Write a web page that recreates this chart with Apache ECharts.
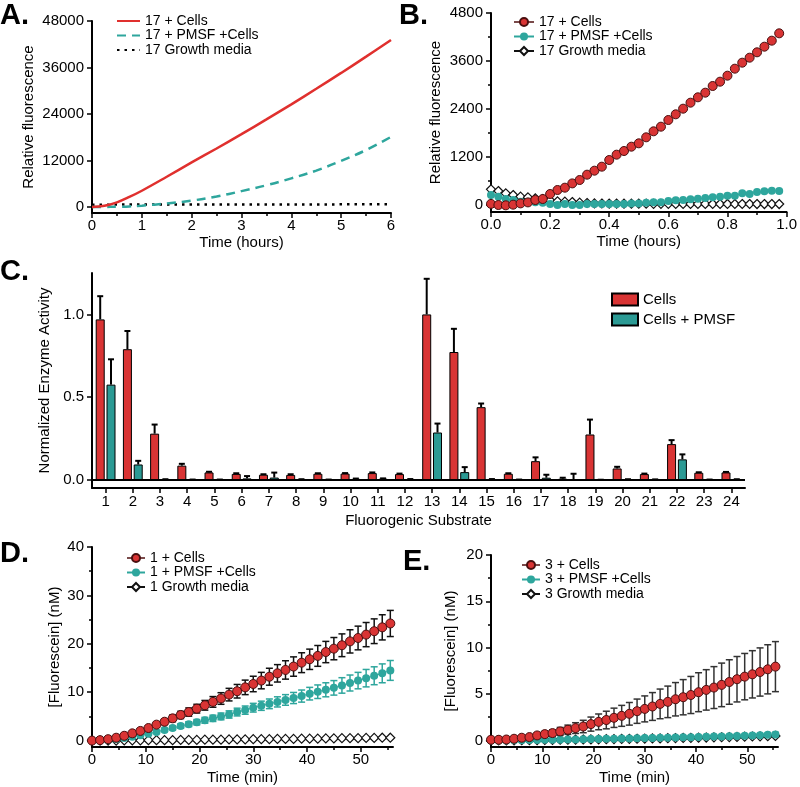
<!DOCTYPE html>
<html><head><meta charset="utf-8">
<script src="https://cdn.jsdelivr.net/npm/echarts@6/dist/echarts.min.js"></script>
<style>html,body{margin:0;padding:0;background:#fff}#c{width:800px;height:787px}</style>
</head><body><div id="c"></div>
<script>
// ---------- Panel A (continuous traces, hours) ----------
const aTime  = [0, 0.25, 0.5, 0.75, 1, 1.5, 2, 2.5, 3, 3.5, 4, 4.5, 5, 5.5, 6];
const aCells = [0, 300, 1200, 2600, 4200, 7800, 11500, 15100, 18800, 22600, 26500, 30500, 34600, 38800, 43100];
const aPMSF  = [0, 20, 60, 150, 350, 900, 1650, 2700, 4100, 5600, 7400, 9400, 11900, 14700, 18100];
const aMedia = [600, 600, 620, 620, 630, 640, 650, 650, 660, 660, 670, 670, 680, 680, 690];
const aTicksY = [0, 12000, 24000, 36000, 48000];
const aTicksX = [0, 1, 2, 3, 4, 5, 6];
const aMinorX = [0.5, 1.5, 2.5, 3.5, 4.5, 5.5];

// ---------- Panel B (first hour) ----------
const bTime = [0, 0.025, 0.05, 0.075, 0.1, 0.125, 0.15, 0.175, 0.2, 0.225, 0.25, 0.275, 0.3, 0.325, 0.35, 0.375, 0.4, 0.425, 0.45, 0.475, 0.5, 0.525, 0.55, 0.575, 0.6, 0.625, 0.65, 0.675, 0.7, 0.725, 0.75, 0.775, 0.8, 0.825, 0.85, 0.875, 0.9, 0.925, 0.95, 0.975];
const bCells = [28, 0, -8, 8, 40, 65, 125, 150, 275, 375, 433, 540, 625, 758, 858, 958, 1125, 1258, 1350, 1458, 1542, 1692, 1842, 1958, 2125, 2267, 2408, 2558, 2692, 2808, 2975, 3083, 3233, 3408, 3558, 3683, 3817, 3958, 4108, 4292];
const bPMSF  = [250, 208, 150, 125, 83, 83, 67, 58, 25, 0, 25, 0, 0, 25, 25, 25, 25, 25, 25, 40, 40, 58, 67, 67, 100, 117, 125, 142, 158, 175, 192, 208, 233, 233, 292, 275, 325, 342, 358, 350];
const bMedia = [392, 350, 292, 250, 208, 192, 167, 150, 117, 92, 83, 75, 58, 50, 40, 38, 36, 35, 34, 33, 32, 32, 30, 30, 30, 28, 28, 28, 27, 27, 26, 26, 26, 25, 25, 25, 24, 24, 24, 24];
const bTicksY = [0, 1200, 2400, 3600, 4800];
const bMinorY = [600, 1800, 3000, 4200];
const bTicksX = [0, 0.2, 0.4, 0.6, 0.8, 1.0];
const bMinorX = [0.1, 0.3, 0.5, 0.7, 0.9];

// ---------- Panel C (bars) ----------
const cLabels = ['1','2','3','4','5','6','7','8','9','10','11','12','13','14','15','16','17','18','19','20','21','22','23','24'];
const cCells    = [0.97, 0.79, 0.28, 0.087, 0.046, 0.037, 0.032, 0.031, 0.038, 0.039, 0.042, 0.036, 1.0, 0.773, 0.44, 0.038, 0.114, 0.008, 0.275, 0.07, 0.036, 0.217, 0.044, 0.046];
const cCellsErr = [0.14, 0.11, 0.055, 0.011, 0.004, 0.004, 0.003, 0.004, 0.003, 0.003, 0.004, 0.003, 0.215, 0.14, 0.022, 0.003, 0.023, 0.006, 0.09, 0.01, 0.003, 0.024, 0.003, 0.003];
const cPMSF     = [0.576, 0.094, 0.004, 0.002, 0.002, 0.01, 0.015, 0.004, 0.002, 0.007, 0.008, 0.005, 0.287, 0.048, 0.004, 0.002, 0.014, 0.002, 0.001, 0.004, 0.003, 0.125, 0.002, 0.004];
const cPMSFErr  = [0.153, 0.022, 0.001, 0.001, 0.001, 0.014, 0.03, 0.001, 0.001, 0.002, 0.002, 0.001, 0.054, 0.03, 0.002, 0.001, 0.018, 0.036, 0.001, 0.001, 0.001, 0.03, 0.001, 0.001];
const cTicksY = [0, 0.5, 1.0];

// ---------- Panels D & E (minutes) ----------
const minTime = [0, 1.5, 3, 4.5, 6, 7.5, 9, 10.5, 12, 13.5, 15, 16.5, 18, 19.5, 21, 22.5, 24, 25.5, 27, 28.5, 30, 31.5, 33, 34.5, 36, 37.5, 39, 40.5, 42, 43.5, 45, 46.5, 48, 49.5, 51, 52.5, 54, 55.5];
const dCells    = [0.0, 0.1, 0.3, 0.6, 1.0, 1.5, 2.0, 2.6, 3.3, 3.9, 4.6, 5.3, 5.9, 6.6, 7.3, 8.0, 8.7, 9.5, 10.2, 11.0, 11.7, 12.4, 13.2, 13.9, 14.6, 15.3, 16.1, 16.8, 17.5, 18.3, 19.0, 19.7, 20.5, 21.2, 21.9, 22.6, 23.4, 24.2];
const dCellsErr = [0, 0.05, 0.1, 0.15, 0.2, 0.3, 0.35, 0.4, 0.5, 0.6, 0.7, 0.75, 0.85, 0.9, 1.0, 1.1, 1.2, 1.3, 1.4, 1.5, 1.6, 1.7, 1.75, 1.8, 1.9, 2.0, 2.05, 2.1, 2.15, 2.2, 2.3, 2.35, 2.4, 2.45, 2.5, 2.55, 2.6, 2.7];
const dPMSF     = [0.0, 0.05, 0.15, 0.3, 0.55, 0.8, 1.1, 1.4, 1.8, 2.2, 2.6, 3.0, 3.4, 3.8, 4.2, 4.6, 5.0, 5.4, 5.9, 6.3, 6.8, 7.2, 7.6, 8.0, 8.4, 8.8, 9.2, 9.7, 10.1, 10.5, 10.9, 11.4, 11.9, 12.4, 12.9, 13.4, 13.9, 14.5];
const dPMSFErr  = [0, 0.03, 0.05, 0.08, 0.1, 0.15, 0.2, 0.25, 0.3, 0.35, 0.4, 0.45, 0.5, 0.55, 0.6, 0.65, 0.7, 0.75, 0.8, 0.85, 0.9, 0.95, 1.0, 1.05, 1.1, 1.15, 1.25, 1.3, 1.4, 1.45, 1.5, 1.6, 1.65, 1.7, 1.8, 1.85, 1.95, 2.05];
const dMedia    = [0.0, 0.0, 0.0, 0.0, 0.05, 0.05, 0.05, 0.1, 0.1, 0.1, 0.1, 0.15, 0.15, 0.15, 0.2, 0.2, 0.2, 0.25, 0.25, 0.25, 0.3, 0.3, 0.3, 0.35, 0.35, 0.35, 0.4, 0.4, 0.4, 0.45, 0.45, 0.5, 0.5, 0.5, 0.55, 0.55, 0.6, 0.6];
const dTicksY = [0, 10, 20, 30, 40];
const dMinorY = [5, 15, 25, 35];

const eCells    = [0.07, 0.07, 0.1, 0.18, 0.29, 0.36, 0.54, 0.68, 0.79, 0.97, 1.15, 1.33, 1.5, 1.76, 2.0, 2.2, 2.44, 2.65, 2.87, 3.15, 3.4, 3.66, 3.94, 4.16, 4.44, 4.66, 4.9, 5.2, 5.45, 5.7, 5.99, 6.3, 6.6, 6.88, 7.13, 7.38, 7.67, 7.96];
const eCellsErr = [0, 0.03, 0.06, 0.1, 0.14, 0.2, 0.25, 0.3, 0.36, 0.43, 0.5, 0.58, 0.67, 0.76, 0.85, 0.95, 1.04, 1.13, 1.22, 1.31, 1.4, 1.5, 1.6, 1.7, 1.8, 1.9, 2.0, 2.1, 2.18, 2.26, 2.35, 2.4, 2.45, 2.5, 2.55, 2.6, 2.65, 2.7];
const ePMSF     = [0.0, 0.0, 0.0, 0.02, 0.03, 0.04, 0.05, 0.06, 0.07, 0.08, 0.1, 0.11, 0.12, 0.14, 0.15, 0.17, 0.18, 0.2, 0.21, 0.23, 0.25, 0.26, 0.28, 0.3, 0.31, 0.33, 0.35, 0.37, 0.39, 0.41, 0.43, 0.45, 0.48, 0.5, 0.53, 0.56, 0.6, 0.65];
const ePMSFErr  = [0, 0, 0, 0.01, 0.01, 0.01, 0.02, 0.02, 0.02, 0.03, 0.03, 0.03, 0.04, 0.04, 0.05, 0.05, 0.05, 0.06, 0.06, 0.07, 0.07, 0.08, 0.08, 0.09, 0.09, 0.1, 0.1, 0.11, 0.12, 0.12, 0.13, 0.14, 0.15, 0.16, 0.17, 0.18, 0.2, 0.22];
const eMedia    = [0.0, 0.0, 0.0, 0.01, 0.02, 0.03, 0.04, 0.05, 0.06, 0.07, 0.08, 0.09, 0.1, 0.11, 0.12, 0.13, 0.14, 0.16, 0.17, 0.18, 0.2, 0.21, 0.22, 0.24, 0.25, 0.27, 0.28, 0.3, 0.31, 0.33, 0.34, 0.36, 0.38, 0.4, 0.42, 0.44, 0.46, 0.48];
const eTicksY = [0, 5, 10, 15, 20];
const eMinorY = [2.5, 7.5, 12.5, 17.5];
const minTicksX = [0, 10, 20, 30, 40, 50];
const minMinorX = [5, 15, 25, 35, 45, 55];

// ---------- styling ----------
const FONT = "'Liberation Sans', Arial, Helvetica, sans-serif";
const RED = '#d93434', RED_B = '#4a0f0f', TEAL = '#2ea69d', TEAL_BAR = '#2b9a94';
const zip = (xs, ys) => xs.map((x, i) => [x, ys[i]]);
const nameStyle = {color: '#000', fontSize: 15, fontFamily: FONT};
const lblStyle = {color: '#000', fontSize: 15, fontFamily: FONT};

function mainX(grid, min, max, ticks, fmt, name, gap) {
  return {type: 'value', gridIndex: grid, min, max, position: 'bottom',
    axisLine: {show: true, onZero: false, lineStyle: {color: '#000', width: 2}},
    axisTick: {show: true, length: 5, lineStyle: {color: '#000', width: 1.5}, customValues: ticks},
    axisLabel: Object.assign({customValues: ticks, formatter: fmt, margin: 5}, lblStyle),
    splitLine: {show: false},
    name, nameLocation: 'middle', nameGap: gap, nameTextStyle: nameStyle};
}
function minorX(grid, min, max, vals) {
  return {type: 'value', gridIndex: grid, min, max, position: 'bottom',
    axisLine: {show: false, onZero: false}, axisLabel: {show: false}, splitLine: {show: false},
    axisTick: {show: true, length: 3, lineStyle: {color: '#000', width: 1.5}, customValues: vals}};
}
function mainY(grid, min, max, ticks, fmt, name, gap) {
  return {type: 'value', gridIndex: grid, min, max, position: 'left',
    axisLine: {show: true, onZero: false, lineStyle: {color: '#000', width: 2}},
    axisTick: {show: true, length: 5, lineStyle: {color: '#000', width: 1.5}, customValues: ticks},
    axisLabel: Object.assign({customValues: ticks, formatter: fmt, margin: 8}, lblStyle),
    splitLine: {show: false},
    name, nameLocation: 'middle', nameGap: gap, nameTextStyle: nameStyle};
}
function minorY(grid, min, max, vals) {
  return {type: 'value', gridIndex: grid, min, max, position: 'left',
    axisLine: {show: false, onZero: false}, axisLabel: {show: false}, splitLine: {show: false},
    axisTick: {show: true, length: 3, lineStyle: {color: '#000', width: 1.5}, customValues: vals}};
}
function errSeries(name, xi, yi, xs, ys, es, color, cap, both, lw, dx) {
  return {type: 'custom', name, xAxisIndex: xi, yAxisIndex: yi, z: 1, silent: true,
    data: xs.map((x, i) => [x, ys[i], es[i]]),
    encode: {x: 0, y: 1},
    renderItem: function (params, api) {
      const x = api.value(0), y = api.value(1), e = api.value(2);
      const off = dx || 0;
      const top = api.coord([x, y + e]);
      const bot = api.coord([x, both ? y - e : y]);
      const px = top[0] + off;
      const st = {stroke: color, lineWidth: lw};
      const ch = [
        {type: 'line', shape: {x1: px, y1: top[1], x2: px, y2: bot[1]}, style: st},
        {type: 'line', shape: {x1: px - cap, y1: top[1], x2: px + cap, y2: top[1]}, style: st}
      ];
      if (both) ch.push({type: 'line', shape: {x1: px - cap, y1: bot[1], x2: px + cap, y2: bot[1]}, style: st});
      return {type: 'group', children: ch};
    }};
}
function markerSeries(name, xi, yi, xs, ys, kind) {
  const s = {type: 'line', name, xAxisIndex: xi, yAxisIndex: yi, data: zip(xs, ys), z: 3};
  if (kind === 'red') {
    Object.assign(s, {symbol: 'circle', symbolSize: 9, z: 5,
      itemStyle: {color: RED, borderColor: RED_B, borderWidth: 1},
      lineStyle: {color: '#7a4a4a', width: 1}});
  } else if (kind === 'teal') {
    Object.assign(s, {symbol: 'circle', symbolSize: 8, z: 4,
      itemStyle: {color: TEAL, borderWidth: 0},
      lineStyle: {color: TEAL, width: 1}});
  } else {
    Object.assign(s, {symbol: 'diamond', symbolSize: 9, z: 3,
      itemStyle: {color: '#fff', borderColor: '#111', borderWidth: 1.2},
      lineStyle: {color: '#111', width: 1}});
  }
  return s;
}
const legendText = {color: '#000', fontSize: 14, fontFamily: FONT, lineHeight: 14};
function lineLegend(names, left, top, w, hideSymbol) {
  const l = {data: names, left, top, orient: 'vertical', itemWidth: w, itemHeight: 10, itemGap: 0.5,
    padding: 0, selectedMode: false, textStyle: legendText};
  if (hideSymbol) l.itemStyle = {opacity: 0};
  return l;
}

const fmtInt = v => String(Math.round(v));
const fmt1 = v => v.toFixed(1);

const option = {
  animation: false,
  backgroundColor: '#fff',
  textStyle: {fontFamily: FONT},
  title: [
    {text: 'A.', left: 0, top: 1, padding: 0, textStyle: {fontSize: 29, fontWeight: 'bold', color: '#000', fontFamily: FONT}},
    {text: 'B.', left: 399, top: 1, padding: 0, textStyle: {fontSize: 29, fontWeight: 'bold', color: '#000', fontFamily: FONT}},
    {text: 'C.', left: 0, top: 257, padding: 0, textStyle: {fontSize: 29, fontWeight: 'bold', color: '#000', fontFamily: FONT}},
    {text: 'D.', left: 0, top: 539, padding: 0, textStyle: {fontSize: 29, fontWeight: 'bold', color: '#000', fontFamily: FONT}},
    {text: 'E.', left: 403, top: 547, padding: 0, textStyle: {fontSize: 29, fontWeight: 'bold', color: '#000', fontFamily: FONT}}
  ],
  grid: [
    {left: 92, top: 21, width: 299, height: 192},
    {left: 491, top: 13, width: 300, height: 199},
    {left: 92, top: 273, width: 653, height: 215},
    {left: 92, top: 547, width: 301, height: 200},
    {left: 491, top: 555, width: 287, height: 192}
  ],
  legend: [
    lineLegend(['17 + Cells', '17 + PMSF +Cells', '17 Growth media'], 116, 14, 23, true),
    lineLegend(['17 + Cells ', '17 + PMSF +Cells ', '17 Growth media '], 513, 15, 20, false),
    {data: ['Cells', 'Cells + PMSF'], left: 611, top: 292, orient: 'vertical', itemWidth: 26, itemHeight: 12, itemGap: 5,
      padding: 0, icon: 'rect', selectedMode: false, textStyle: {color: '#000', fontSize: 15, fontFamily: FONT}},
    lineLegend(['1 + Cells', '1 + PMSF +Cells', '1 Growth media'], 126, 551, 18, false),
    lineLegend(['3 + Cells', '3 + PMSF +Cells', '3 Growth media'], 521, 558, 18, false)
  ],
  xAxis: [
    mainX(0, 0, 6, aTicksX, fmtInt, 'Time (hours)', 22),
    minorX(0, 0, 6, aMinorX),
    mainX(1, 0, 1, bTicksX, fmt1, 'Time (hours)', 22),
    minorX(1, 0, 1, bMinorX),
    {type: 'category', gridIndex: 2, data: cLabels, position: 'bottom', boundaryGap: true,
      axisLine: {show: true, onZero: false, lineStyle: {color: '#000', width: 2}},
      axisTick: {show: true, alignWithLabel: true, length: 5, lineStyle: {color: '#000', width: 1.5}},
      axisLabel: Object.assign({margin: 6, interval: 0}, lblStyle),
      name: 'Fluorogenic Substrate', nameLocation: 'middle', nameGap: 25, nameTextStyle: nameStyle},
    mainX(3, 0, 56, minTicksX, fmtInt, 'Time (min)', 23),
    minorX(3, 0, 56, minMinorX),
    mainX(4, 0, 56, minTicksX, fmtInt, 'Time (min)', 23),
    minorX(4, 0, 56, minMinorX)
  ],
  yAxis: [
    mainY(0, -1548, 48000, aTicksY, fmtInt, 'Relative fluorescence', 56),
    mainY(1, -175, 4800, bTicksY, fmtInt, 'Relative fluorescence', 48),
    minorY(1, -175, 4800, bMinorY),
    mainY(2, -0.048, 1.25, cTicksY, fmt1, 'Normalized Enzyme Activity', 36),
    mainY(3, -1.32, 40, dTicksY, fmtInt, '[Fluorescein] (nM)', 30),
    minorY(3, -1.32, 40, dMinorY),
    mainY(4, -0.71, 20, eTicksY, fmtInt, '[Fluorescein] (nM)', 33),
    minorY(4, -0.71, 20, eMinorY)
  ],
  series: [
    // A
    {type: 'line', name: '17 Growth media', xAxisIndex: 0, yAxisIndex: 0, data: zip(aTime, aMedia), symbol: 'none',
      lineStyle: {color: '#000', width: 2.5, type: [2.5, 5]}, itemStyle: {color: '#000'}},
    {type: 'line', name: '17 + PMSF +Cells', xAxisIndex: 0, yAxisIndex: 0, data: zip(aTime, aPMSF), symbol: 'none', smooth: 0.4,
      lineStyle: {color: TEAL, width: 2.5, type: [9, 6]}, itemStyle: {color: TEAL}},
    {type: 'line', name: '17 + Cells', xAxisIndex: 0, yAxisIndex: 0, data: zip(aTime, aCells), symbol: 'none', smooth: 0.4,
      lineStyle: {color: '#e0302e', width: 2.5}, itemStyle: {color: '#e0302e'}},
    // B
    markerSeries('17 Growth media ', 2, 1, bTime, bMedia, 'media'),
    markerSeries('17 + PMSF +Cells ', 2, 1, bTime, bPMSF, 'teal'),
    markerSeries('17 + Cells ', 2, 1, bTime, bCells, 'red'),
    // C
    {type: 'bar', name: 'Cells', xAxisIndex: 4, yAxisIndex: 3, data: cCells, barWidth: 9, barGap: '20%', z: 3,
      itemStyle: {color: RED, borderColor: '#000', borderWidth: 1},
      markLine: {silent: true, symbol: ['none', 'none'], label: {show: false}, animation: false,
        lineStyle: {color: '#000', width: 2, type: 'solid'}, data: [{yAxis: 0}]}},
    {type: 'bar', name: 'Cells + PMSF', xAxisIndex: 4, yAxisIndex: 3, data: cPMSF, barWidth: 9, barGap: '20%', z: 3,
      itemStyle: {color: TEAL_BAR, borderColor: '#000', borderWidth: 1}},
    errSeries('errC1', 4, 3, cCells.map((v, i) => i), cCells, cCellsErr, '#000', 3, false, 2, -5.4),
    errSeries('errC2', 4, 3, cPMSF.map((v, i) => i), cPMSF, cPMSFErr, '#000', 3, false, 2, 5.4),
    // D
    errSeries('errD1', 5, 4, minTime, dCells, dCellsErr, '#111', 3.5, true, 1.5),
    errSeries('errD2', 5, 4, minTime, dPMSF, dPMSFErr, TEAL, 3.5, true, 1.5),
    markerSeries('1 Growth media', 5, 4, minTime, dMedia, 'media'),
    markerSeries('1 + PMSF +Cells', 5, 4, minTime, dPMSF, 'teal'),
    markerSeries('1 + Cells', 5, 4, minTime, dCells, 'red'),
    // E
    errSeries('errE1', 7, 6, minTime, eCells, eCellsErr, '#333', 3.5, true, 1.5),
    errSeries('errE2', 7, 6, minTime, ePMSF, ePMSFErr, TEAL, 3.5, true, 1.5),
    markerSeries('3 Growth media', 7, 6, minTime, eMedia, 'media'),
    markerSeries('3 + PMSF +Cells', 7, 6, minTime, ePMSF, 'teal'),
    markerSeries('3 + Cells', 7, 6, minTime, eCells, 'red')
  ]
};
const chart = echarts.init(document.getElementById('c'), null, {renderer: 'canvas'});
chart.setOption(option);
</script></body></html>
